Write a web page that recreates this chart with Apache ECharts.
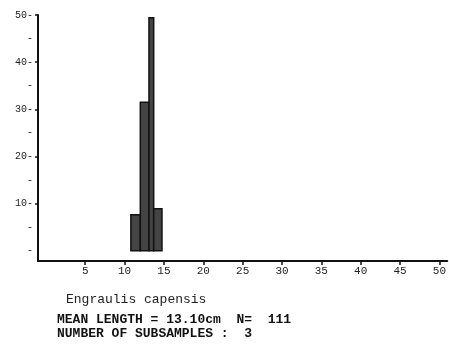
<!DOCTYPE html>
<html>
<head>
<meta charset="utf-8">
<script src="https://cdn.jsdelivr.net/npm/echarts@6/dist/echarts.min.js"></script>
<style>html,body{margin:0;padding:0;background:#fff}#c{width:449px;height:349px}</style>
</head>
<body>
<div id="c"></div>
<script>
const binStart = [10.8, 12.0, 13.1, 13.7];
const binEnd = [12.0, 13.1, 13.7, 14.75];
const percent = [7.6, 31.5, 49.4, 8.9];
const xTickValues = [5, 10, 15, 20, 25, 30, 35, 40, 45, 50];
const yLabelValues = [0, 5, 10, 15, 20, 25, 30, 35, 40, 45, 50];
const yMajorTicks = [10, 20, 30, 40, 50];
const speciesName = 'Engraulis capensis';
const statLine1 = 'MEAN LENGTH = 13.10cm  N=  111';
const statLine2 = 'NUMBER OF SUBSAMPLES :  3';

const chart = echarts.init(document.getElementById('c'), null, {renderer: 'canvas'});
const data = binStart.map((s, i) => [s, binEnd[i], percent[i]]);
const mono = '"Liberation Mono","DejaVu Sans Mono",monospace';

chart.setOption({
  animation: false,
  backgroundColor: '#fff',
  grid: {left: 38, right: 1, top: 15, bottom: 88},
  xAxis: {
    type: 'value', min: -1, max: 51,
    splitLine: {show: false},
    axisLine: {show: true, onZero: false, lineStyle: {color: '#111', width: 2}},
    axisTick: {show: true, customValues: xTickValues, length: 4, lineStyle: {color: '#111', width: 1.5}},
    axisLabel: {customValues: xTickValues, margin: 5, fontFamily: mono, fontSize: 11, color: '#222'}
  },
  yAxis: {
    type: 'value', min: -2.2, max: 50,
    splitLine: {show: false},
    axisLine: {show: true, onZero: false, lineStyle: {color: '#111', width: 2}},
    axisTick: {show: true, customValues: yMajorTicks, length: 3, lineStyle: {color: '#111', width: 1.5}},
    axisLabel: {
      customValues: yLabelValues, margin: 5, fontFamily: mono, fontSize: 10, color: '#222',
      formatter: v => (v > 0 && v % 10 === 0) ? v + '-' : '-'
    }
  },
  series: [{
    type: 'custom',
    data: data,
    encode: {x: [0, 1], y: 2},
    renderItem: (params, api) => {
      const p0 = api.coord([api.value(0), api.value(2)]);
      const p1 = api.coord([api.value(1), 0]);
      return {
        type: 'rect',
        shape: {x: p0[0], y: p0[1], width: p1[0] - p0[0], height: p1[1] - p0[1]},
        style: {fill: '#444', stroke: '#111', lineWidth: 1.5}
      };
    }
  }],
  graphic: [
    {type: 'text', left: 66, top: 293, style: {text: speciesName, font: '13px ' + mono, fill: '#222'}},
    {type: 'text', left: 57, top: 313, style: {text: statLine1, font: 'bold 13px ' + mono, fill: '#111'}},
    {type: 'text', left: 57, top: 327, style: {text: statLine2, font: 'bold 13px ' + mono, fill: '#111'}}
  ]
});
</script>
</body>
</html>
